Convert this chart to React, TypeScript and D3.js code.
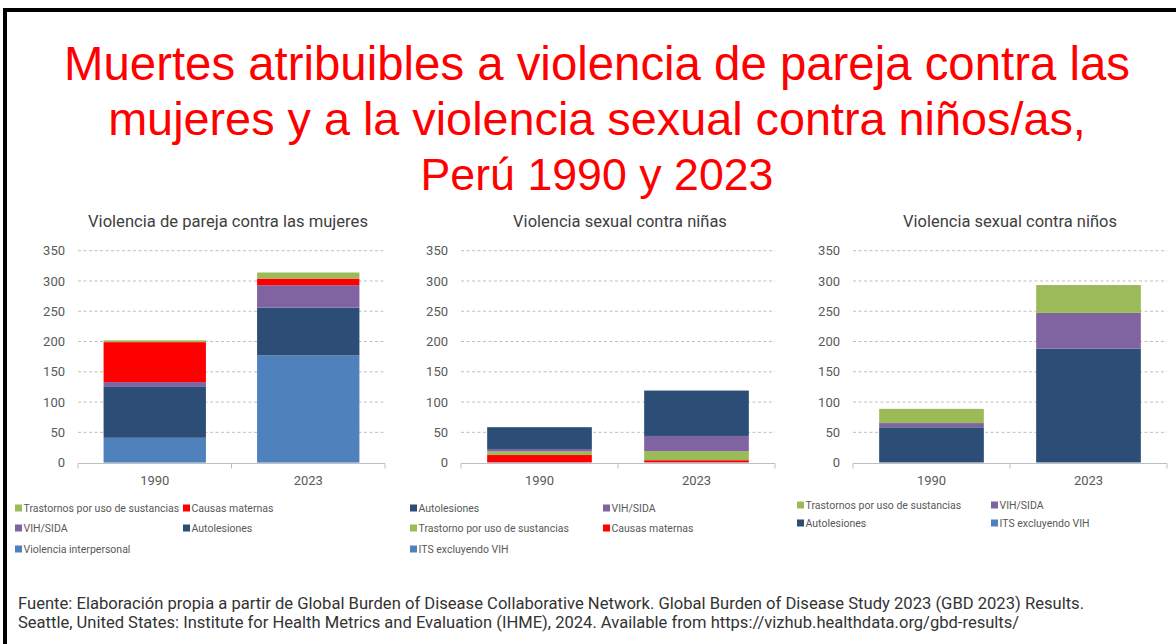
import { useEffect, useRef } from "react";
import * as d3 from "d3";

// ---- data ----
const years = ["1990", "2023"];
const yTicks = [0, 50, 100, 150, 200, 250, 300, 350];

// Violencia de pareja contra las mujeres
const parejaInterpersonal = [41, 177];
const parejaAutolesiones = [85, 79];
const parejaVih = [7, 37];
const parejaMaternas = [66, 11];
const parejaTrastornos = [3, 10];

// Violencia sexual contra niñas
const ninasIts = [0.5, 0.5];
const ninasMaternas = [12, 3.5];
const ninasTrastorno = [6, 15];
const ninasVih = [4, 25];
const ninasAutolesiones = [36, 75];

// Violencia sexual contra niños
const ninosIts = [0.3, 0.3];
const ninosAutolesiones = [58, 188];
const ninosVih = [7, 59];
const ninosTrastornos = [23.5, 46];

const titleLines = [
  "Muertes atribuibles a violencia de pareja contra las",
  "mujeres y a la violencia sexual contra niños/as,",
  "Perú 1990 y 2023",
];
const sourceLines = [
  "Fuente: Elaboración propia a partir de Global Burden of Disease Collaborative Network. Global Burden of Disease Study 2023 (GBD 2023) Results.",
  "Seattle, United States: Institute for Health Metrics and Evaluation (IHME), 2024. Available from https://vizhub.healthdata.org/gbd-results/",
];

const C = {
  lightBlue: "#4F81BD",
  darkBlue: "#2C4D75",
  purple: "#8064A2",
  red: "#FF0000",
  green: "#9BBB59",
};

// series listed bottom -> top
const panels = [
  {
    title: "Violencia de pareja contra las mujeres",
    titleX: 228, titleW: 280,
    x0: 78, x1: 385,
    series: [
      { name: "Violencia interpersonal", color: C.lightBlue, values: parejaInterpersonal },
      { name: "Autolesiones", color: C.darkBlue, values: parejaAutolesiones },
      { name: "VIH/SIDA", color: C.purple, values: parejaVih },
      { name: "Causas maternas", color: C.red, values: parejaMaternas },
      { name: "Trastornos por uso de sustancias", color: C.green, values: parejaTrastornos },
    ],
    legendOrder: ["Trastornos por uso de sustancias", "Causas maternas", "VIH/SIDA", "Autolesiones", "Violencia interpersonal"],
    legendCols: [15, 183],
    legendRows: [508, 528, 549],
  },
  {
    title: "Violencia sexual contra niñas",
    titleX: 620, titleW: 214,
    x0: 461, x1: 775,
    series: [
      { name: "ITS excluyendo VIH", color: C.lightBlue, values: ninasIts },
      { name: "Causas maternas", color: C.red, values: ninasMaternas },
      { name: "Trastorno por uso de sustancias", color: C.green, values: ninasTrastorno },
      { name: "VIH/SIDA", color: C.purple, values: ninasVih },
      { name: "Autolesiones", color: C.darkBlue, values: ninasAutolesiones },
    ],
    legendOrder: ["Autolesiones", "VIH/SIDA", "Trastorno por uso de sustancias", "Causas maternas", "ITS excluyendo VIH"],
    legendCols: [410, 603],
    legendRows: [508, 528, 549],
  },
  {
    title: "Violencia sexual contra niños",
    titleX: 1010, titleW: 214,
    x0: 853, x1: 1167,
    series: [
      { name: "ITS excluyendo VIH", color: C.lightBlue, values: ninosIts },
      { name: "Autolesiones", color: C.darkBlue, values: ninosAutolesiones },
      { name: "VIH/SIDA", color: C.purple, values: ninosVih },
      { name: "Trastornos por uso de sustancias", color: C.green, values: ninosTrastornos },
    ],
    legendOrder: ["Trastornos por uso de sustancias", "VIH/SIDA", "Autolesiones", "ITS excluyendo VIH"],
    legendCols: [797, 991],
    legendRows: [505, 523],
  },
];

const W = 1176;
const H = 644;
const chartFont = "Roboto, 'Liberation Sans', sans-serif";

function fitWidth(sel: any, width: number) {
  const w = (sel.node() as SVGTextElement).getComputedTextLength();
  const fs = parseFloat(sel.attr("font-size"));
  if (w > 0) sel.attr("font-size", (fs * width) / w);
}

export default function App() {
  const ref = useRef<SVGSVGElement>(null);

  useEffect(() => {
    const svg = d3.select(ref.current);
    svg.selectAll("*").remove();

    svg.append("rect").attr("width", W).attr("height", H).attr("fill", "#fff");

    // frame (right/bottom edges fall outside the picture)
    svg.append("rect")
      .attr("x", 5).attr("y", 10)
      .attr("width", 1300).attr("height", 800)
      .attr("fill", "none")
      .attr("stroke", "#000")
      .attr("stroke-width", 4);

    // main title
    const titleBase = [80, 135, 190];
    const titleWidths = [1066, 978, 353];
    titleLines.forEach((line, i) => {
      const t = svg.append("text")
        .attr("x", 597)
        .attr("y", titleBase[i])
        .attr("text-anchor", "middle")
        .attr("font-family", "'Liberation Sans', Arial, sans-serif")
        .attr("font-size", 46)
        .attr("fill", "#FF0000")
        .text(line);
      fitWidth(t, titleWidths[i]);
    });

    const y = d3.scaleLinear().domain([0, 350]).range([462.6, 250.7]);

    panels.forEach(p => {
      const g = svg.append("g");

      const t = g.append("text")
        .attr("x", p.titleX)
        .attr("y", 227)
        .attr("text-anchor", "middle")
        .attr("font-family", chartFont)
        .attr("font-size", 14)
        .attr("fill", "#404040")
        .text(p.title);
      fitWidth(t, p.titleW);

      const x = d3.scaleBand().domain(years).range([p.x0, p.x1]).padding(0);
      const barW = x.bandwidth() / 1.5;

      // gridlines
      g.selectAll(".grid")
        .data(yTicks.filter(d => d > 0))
        .enter()
        .append("line")
        .attr("x1", p.x0)
        .attr("x2", p.x1)
        .attr("y1", d => y(d))
        .attr("y2", d => y(d))
        .attr("stroke", "#BFBFBF")
        .attr("stroke-width", 1)
        .attr("stroke-dasharray", "3,2.5");

      // y labels
      g.selectAll(".ylab")
        .data(yTicks)
        .enter()
        .append("text")
        .attr("x", p.x0 - 13)
        .attr("y", d => y(d))
        .attr("dy", "0.35em")
        .attr("text-anchor", "end")
        .attr("font-family", chartFont)
        .attr("font-size", 13)
        .attr("fill", "#595959")
        .text(d => d);

      // stacked bars
      const keys = p.series.map(s => s.name);
      const table = years.map((yr, i) => {
        const row: any = { year: yr };
        p.series.forEach(s => { row[s.name] = s.values[i]; });
        return row;
      });
      const stacked = d3.stack().keys(keys)(table);

      stacked.forEach((layer, li) => {
        g.selectAll(null)
          .data(layer)
          .enter()
          .append("rect")
          .attr("x", (d: any) => (x(d.data.year) as number) + (x.bandwidth() - barW) / 2)
          .attr("width", barW)
          .attr("y", d => y(d[1]))
          .attr("height", d => y(d[0]) - y(d[1]))
          .attr("fill", p.series[li].color);
      });

      // x axis
      const axisY = 463.5;
      g.append("line")
        .attr("x1", p.x0).attr("x2", p.x1)
        .attr("y1", axisY).attr("y2", axisY)
        .attr("stroke", "#BFBFBF").attr("stroke-width", 1);
      [p.x0, ...years.slice(1).map(d => x(d) as number), p.x1].forEach(tx => {
        g.append("line")
          .attr("x1", tx).attr("x2", tx)
          .attr("y1", axisY).attr("y2", axisY + 5)
          .attr("stroke", "#BFBFBF").attr("stroke-width", 1);
      });
      g.selectAll(".xlab")
        .data(years)
        .enter()
        .append("text")
        .attr("x", d => (x(d) as number) + x.bandwidth() / 2)
        .attr("y", 480)
        .attr("dy", "0.35em")
        .attr("text-anchor", "middle")
        .attr("font-family", chartFont)
        .attr("font-size", 13)
        .attr("fill", "#595959")
        .text(d => d);

      // legend
      p.legendOrder.forEach((name, i) => {
        const s = p.series.find(d => d.name === name)!;
        const lx = p.legendCols[i % 2];
        const ly = p.legendRows[Math.floor(i / 2)];
        g.append("rect")
          .attr("x", lx).attr("y", ly - 3.5)
          .attr("width", 7).attr("height", 7)
          .attr("fill", s.color);
        g.append("text")
          .attr("x", lx + 8.5)
          .attr("y", ly)
          .attr("dy", "0.35em")
          .attr("font-family", chartFont)
          .attr("font-size", 10.5)
          .attr("fill", "#595959")
          .text(name);
      });
    });

    // source note
    const srcWidths = [1067, 1002];
    sourceLines.forEach((line, i) => {
      const t = svg.append("text")
        .attr("x", 18)
        .attr("y", 609 + i * 19)
        .attr("font-family", chartFont)
        .attr("font-size", 14)
        .attr("fill", "#333")
        .text(line);
      fitWidth(t, srcWidths[i]);
    });
  }, []);

  return (
    <svg
      ref={ref}
      width={W}
      height={H}
      style={{ position: "absolute", left: 0, top: 0, display: "block" }}
    />
  );
}
